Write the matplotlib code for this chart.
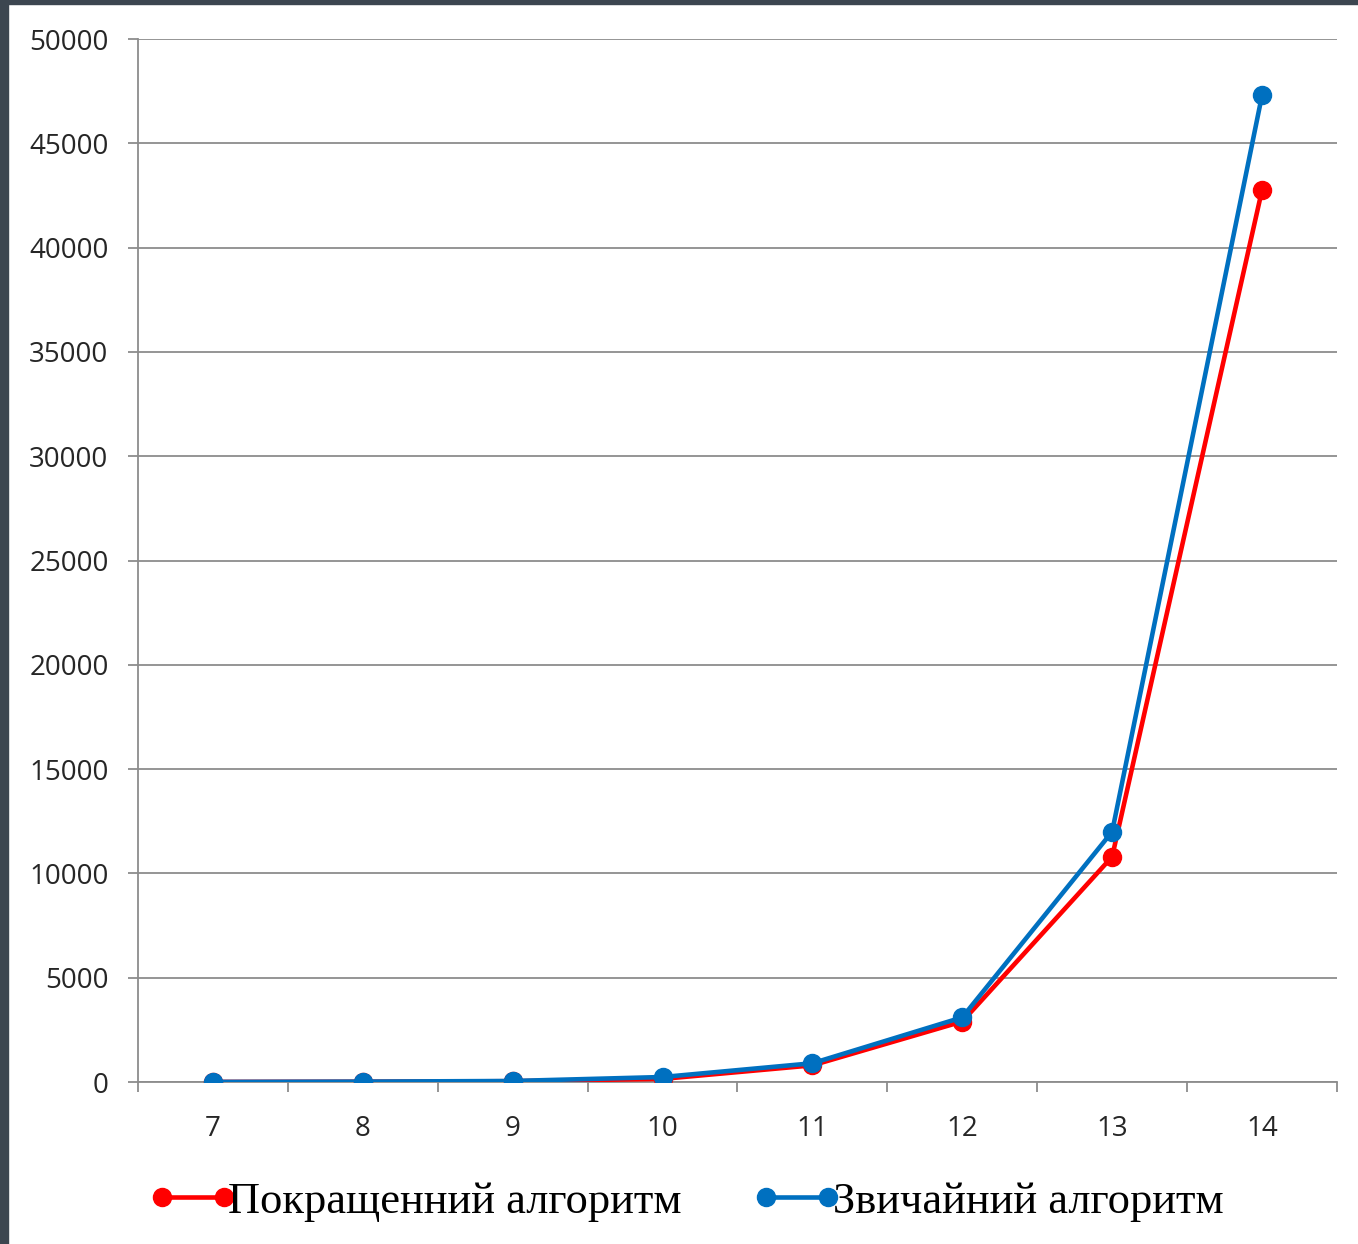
import numpy as np
import matplotlib
matplotlib.use("Agg")
import matplotlib.pyplot as plt
from matplotlib.patches import Rectangle

# Chart data
N_VALUES = [7, 8, 9, 10, 11, 12, 13, 14]
IMPROVED = [5, 15, 40, 150, 800, 2900, 10800, 42760]
REGULAR = [5, 20, 50, 240, 900, 3100, 12000, 47300]
LABELS = ["Покращенний алгоритм", "Звичайний алгоритм"]
Y_TICKS = np.arange(0, 50001, 5000)

GRID_COLOR = "#8c8c8c"
RED = "#ff0000"
BLUE = "#0070c0"


def main():
    fig = plt.figure(figsize=(13.58, 12.44), dpi=100)
    ax = fig.add_axes([0.1016, 0.1302, 0.8829, 0.8384])

    # screenshot frame on the left and top edges
    fig.patches.append(Rectangle((0, 0), 0.0059, 1, transform=fig.transFigure,
                                 color="#3c4650", zorder=10))
    fig.patches.append(Rectangle((0, 0.9968), 1, 0.0032,
                                 transform=fig.transFigure,
                                 color="#3c4650", zorder=10))

    ax.plot(N_VALUES, IMPROVED, color=RED, lw=3.3, marker="o", ms=13,
            label=LABELS[0], zorder=3)
    ax.plot(N_VALUES, REGULAR, color=BLUE, lw=3.3, marker="o", ms=13,
            label=LABELS[1], zorder=4)

    ax.set_xlim(6.5, 14.5)
    ax.set_ylim(0, 50000)
    ax.set_yticks(Y_TICKS)
    ax.set_yticklabels([str(v) for v in Y_TICKS])
    ax.set_xticks(N_VALUES)
    ax.set_xticks(np.arange(6.5, 14.6, 1), minor=True)

    ax.yaxis.grid(True, color=GRID_COLOR, lw=1.3)
    ax.set_axisbelow(True)
    for side in ["top", "right"]:
        ax.spines[side].set_visible(False)
    for side in ["left", "bottom"]:
        ax.spines[side].set_color(GRID_COLOR)
        ax.spines[side].set_linewidth(1.3)
    ax.spines["left"].set_bounds(0, 50000)

    ax.tick_params(axis="y", direction="out", length=7.2, width=1.3,
                   color=GRID_COLOR, pad=14, labelsize=20)
    ax.tick_params(axis="x", which="major", length=0, pad=23.5, labelsize=20)
    ax.tick_params(axis="x", which="minor", direction="out", length=7.2,
                   width=1.3, color=GRID_COLOR)
    for lbl in ax.get_xticklabels() + ax.get_yticklabels():
        lbl.set_family("Open Sans")
        lbl.set_color("#262626")

    fig.legend(loc="center", bbox_to_anchor=(0.505, 0.034), ncol=2,
               frameon=False, numpoints=2, handlelength=2.0,
               handletextpad=-0.2, columnspacing=1.6,
               prop={"family": "Liberation Serif", "size": 32})

    fig.savefig("out.png", dpi=100)
    plt.close(fig)


if __name__ == "__main__":
    main()
